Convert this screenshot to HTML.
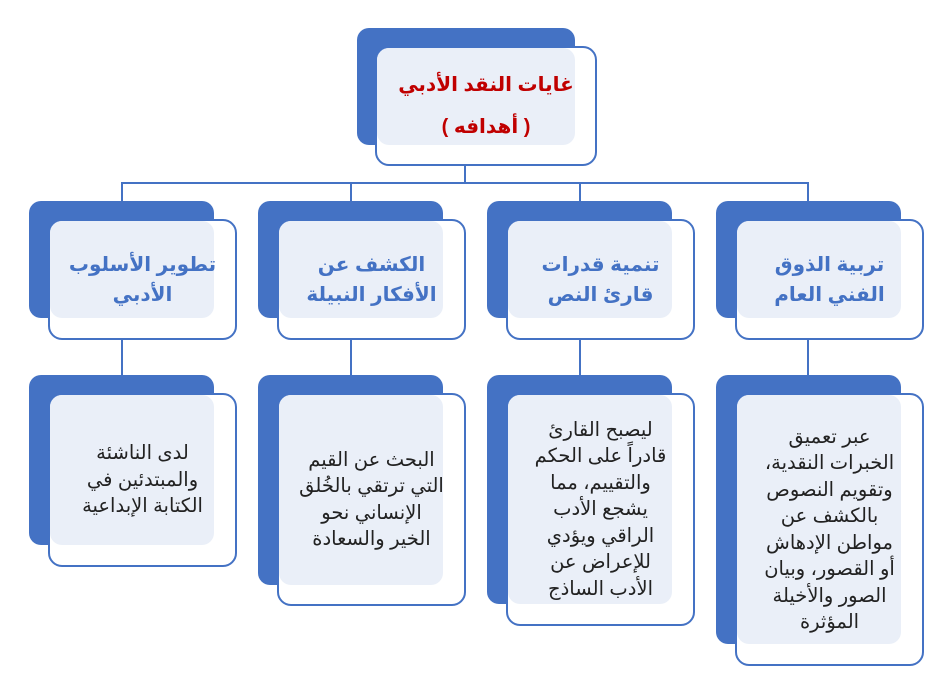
<!DOCTYPE html>
<html><head><meta charset="utf-8"><style>
body{margin:0;width:949px;height:686px;background:#fff;position:relative;overflow:hidden;font-family:"Liberation Sans","Noto Sans CJK SC","DejaVu Sans",sans-serif}
.b{position:absolute;background:#4472c4;border-radius:12px}
.f{position:absolute;background:#fff;border:2px solid #4472c4;border-radius:14px;box-sizing:border-box}
.l{position:absolute;background:#eaeff8;border-radius:12px}
.t{position:absolute;display:flex;align-items:center;justify-content:center;text-align:center;direction:rtl}
.h{color:#4472c4;font-weight:bold;font-size:20px;line-height:30px}
.p{color:#222;font-size:19.5px;line-height:26.5px}
.ln{position:absolute;background:#4472c4}
</style></head><body>
<div class="ln" style="left:464px;top:165px;width:2px;height:19px"></div>
<div class="ln" style="left:121px;top:182px;width:688px;height:2px"></div>
<div class="ln" style="left:121px;top:182px;width:2px;height:20px"></div>
<div class="ln" style="left:350px;top:182px;width:2px;height:20px"></div>
<div class="ln" style="left:579px;top:182px;width:2px;height:20px"></div>
<div class="ln" style="left:807px;top:182px;width:2px;height:20px"></div>
<div class="ln" style="left:121px;top:338px;width:2px;height:38px"></div>
<div class="ln" style="left:350px;top:338px;width:2px;height:38px"></div>
<div class="ln" style="left:579px;top:338px;width:2px;height:38px"></div>
<div class="ln" style="left:807px;top:338px;width:2px;height:38px"></div>

<div class="b" style="left:357px;top:28px;width:218px;height:117px"></div>
<div class="f" style="left:375px;top:46px;width:222px;height:120px"></div>
<div class="l" style="left:377px;top:48px;width:198px;height:97px"></div>
<div class="t" style="left:376px;top:47px;width:220px;height:118px;color:#c00000;font-weight:bold;font-size:20px;line-height:42px">غايات النقد الأدبي<br>( أهدافه )</div>

<div class="b" style="left:29px;top:201px;width:185px;height:117px"></div>
<div class="f" style="left:48px;top:219px;width:189px;height:121px"></div>
<div class="l" style="left:50px;top:221px;width:164px;height:97px"></div>
<div class="t h" style="left:49px;top:220px;width:187px;height:119px">تطوير الأسلوب<br>الأدبي</div>

<div class="b" style="left:258px;top:201px;width:185px;height:117px"></div>
<div class="f" style="left:277px;top:219px;width:189px;height:121px"></div>
<div class="l" style="left:279px;top:221px;width:164px;height:97px"></div>
<div class="t h" style="left:278px;top:220px;width:187px;height:119px">الكشف عن<br>الأفكار النبيلة</div>

<div class="b" style="left:487px;top:201px;width:185px;height:117px"></div>
<div class="f" style="left:506px;top:219px;width:189px;height:121px"></div>
<div class="l" style="left:508px;top:221px;width:164px;height:97px"></div>
<div class="t h" style="left:507px;top:220px;width:187px;height:119px">تنمية قدرات<br>قارئ النص</div>

<div class="b" style="left:716px;top:201px;width:185px;height:117px"></div>
<div class="f" style="left:735px;top:219px;width:189px;height:121px"></div>
<div class="l" style="left:737px;top:221px;width:164px;height:97px"></div>
<div class="t h" style="left:736px;top:220px;width:187px;height:119px">تربية الذوق<br>الفني العام</div>

<div class="b" style="left:29px;top:375px;width:185px;height:170px"></div>
<div class="f" style="left:48px;top:393px;width:189px;height:174px"></div>
<div class="l" style="left:50px;top:395px;width:164px;height:150px"></div>
<div class="t p" style="left:49px;top:394px;width:187px;height:172px">لدى الناشئة<br>والمبتدئين في<br>الكتابة الإبداعية</div>

<div class="b" style="left:258px;top:375px;width:185px;height:210px"></div>
<div class="f" style="left:277px;top:393px;width:189px;height:213px"></div>
<div class="l" style="left:279px;top:395px;width:164px;height:190px"></div>
<div class="t p" style="left:278px;top:394px;width:187px;height:211px">البحث عن القيم<br>التي ترتقي بالخُلق<br>الإنساني نحو<br>الخير والسعادة</div>

<div class="b" style="left:487px;top:375px;width:185px;height:229px"></div>
<div class="f" style="left:506px;top:393px;width:189px;height:233px"></div>
<div class="l" style="left:508px;top:395px;width:164px;height:209px"></div>
<div class="t p" style="left:507px;top:394px;width:187px;height:231px">ليصبح القارئ<br>قادراً على الحكم<br>والتقييم، مما<br>يشجع الأدب<br>الراقي ويؤدي<br>للإعراض عن<br>الأدب الساذج</div>

<div class="b" style="left:716px;top:375px;width:185px;height:269px"></div>
<div class="f" style="left:735px;top:393px;width:189px;height:273px"></div>
<div class="l" style="left:737px;top:395px;width:164px;height:249px"></div>
<div class="t p" style="left:736px;top:394px;width:187px;height:271px">عبر تعميق<br>الخبرات النقدية،<br>وتقويم النصوص<br>بالكشف عن<br>مواطن الإدهاش<br>أو القصور، وبيان<br>الصور والأخيلة<br>المؤثرة</div>
</body></html>
